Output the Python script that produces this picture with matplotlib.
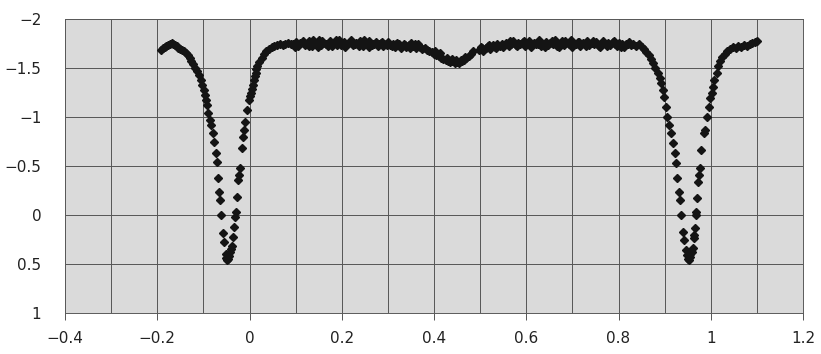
import matplotlib

matplotlib.use("Agg")
import matplotlib.pyplot as plt
import matplotlib.ticker as ticker

# light curve: (phase, magnitude) per stretch of the curve
ECL1 = [(-0.192, -1.68), (-0.188, -1.70), (-0.184, -1.71), (-0.180, -1.72), (-0.176, -1.73),
        (-0.172, -1.75), (-0.168, -1.76), (-0.165, -1.74), (-0.162, -1.73), (-0.158, -1.72),
        (-0.154, -1.70), (-0.150, -1.69), (-0.146, -1.68), (-0.142, -1.67), (-0.138, -1.65),
        (-0.134, -1.63), (-0.130, -1.60), (-0.126, -1.57), (-0.122, -1.54), (-0.118, -1.50),
        (-0.114, -1.47), (-0.110, -1.43), (-0.106, -1.38), (-0.102, -1.33), (-0.099, -1.28),
        (-0.096, -1.22), (-0.094, -1.17), (-0.092, -1.12), (-0.089, -1.04), (-0.086, -0.97),
        (-0.083, -0.92), (-0.080, -0.84), (-0.076, -0.74), (-0.073, -0.63), (-0.071, -0.54),
        (-0.069, -0.38), (-0.066, -0.23), (-0.064, -0.15), (-0.061, 0.00), (-0.057, 0.18),
        (-0.055, 0.28), (-0.052, 0.40), (-0.050, 0.44), (-0.048, 0.46), (-0.046, 0.45),
        (-0.044, 0.42), (-0.042, 0.38), (-0.040, 0.35), (-0.038, 0.32), (-0.036, 0.22),
        (-0.034, 0.12), (-0.031, 0.02), (-0.030, -0.03), (-0.027, -0.18), (-0.025, -0.36),
        (-0.023, -0.41), (-0.021, -0.48), (-0.016, -0.68), (-0.014, -0.80), (-0.012, -0.87),
        (-0.009, -0.95), (-0.005, -1.07), (-0.001, -1.17), (0.001, -1.21), (0.003, -1.25),
        (0.005, -1.29), (0.007, -1.33), (0.009, -1.38), (0.011, -1.42), (0.013, -1.45),
        (0.015, -1.49), (0.017, -1.52), (0.021, -1.56), (0.026, -1.60), (0.031, -1.64),
        (0.036, -1.67), (0.042, -1.69), (0.048, -1.71), (0.054, -1.72), (0.060, -1.73),
        (0.066, -1.74), (0.072, -1.73), (0.078, -1.75), (0.084, -1.76), (0.090, -1.75)]

PLATEAU1 = [(0.095, -1.74), (0.100, -1.77), (0.105, -1.72), (0.110, -1.76), (0.115, -1.78),
            (0.120, -1.73), (0.125, -1.75), (0.130, -1.78), (0.135, -1.72), (0.140, -1.76),
            (0.145, -1.74), (0.150, -1.79), (0.155, -1.73), (0.160, -1.76), (0.165, -1.75),
            (0.170, -1.72), (0.175, -1.78), (0.180, -1.74), (0.185, -1.76), (0.190, -1.73),
            (0.195, -1.79), (0.200, -1.75), (0.205, -1.77), (0.210, -1.74), (0.215, -1.76),
            (0.220, -1.79), (0.225, -1.73), (0.230, -1.76), (0.235, -1.75), (0.240, -1.78),
            (0.245, -1.72), (0.250, -1.76), (0.255, -1.74), (0.260, -1.78), (0.265, -1.73),
            (0.270, -1.75), (0.275, -1.77), (0.280, -1.74), (0.285, -1.76), (0.290, -1.72),
            (0.295, -1.75), (0.300, -1.77), (0.305, -1.73), (0.310, -1.75), (0.315, -1.71),
            (0.320, -1.76), (0.325, -1.74), (0.330, -1.72), (0.335, -1.75), (0.340, -1.71),
            (0.345, -1.73), (0.350, -1.76), (0.355, -1.72), (0.360, -1.70), (0.365, -1.74),
            (0.370, -1.71), (0.375, -1.69), (0.098, -1.71), (0.108, -1.74), (0.118, -1.76),
            (0.128, -1.72), (0.138, -1.79), (0.148, -1.71), (0.158, -1.78), (0.168, -1.74),
            (0.178, -1.72), (0.188, -1.79), (0.198, -1.73), (0.208, -1.71), (0.218, -1.77),
            (0.228, -1.74), (0.238, -1.72), (0.248, -1.79), (0.258, -1.71), (0.268, -1.74),
            (0.278, -1.72), (0.288, -1.77), (0.298, -1.73), (0.308, -1.72), (0.318, -1.74),
            (0.328, -1.70), (0.338, -1.73), (0.348, -1.70), (0.358, -1.74), (0.368, -1.72)]

ECL2 = [(0.380, -1.70), (0.385, -1.68), (0.390, -1.67), (0.395, -1.66), (0.400, -1.64),
        (0.405, -1.63), (0.410, -1.62), (0.415, -1.60), (0.420, -1.59), (0.425, -1.58),
        (0.430, -1.57), (0.435, -1.56), (0.440, -1.57), (0.445, -1.55), (0.450, -1.56),
        (0.455, -1.55), (0.460, -1.57), (0.465, -1.58), (0.470, -1.60), (0.475, -1.62),
        (0.480, -1.64), (0.484, -1.67), (0.402, -1.67), (0.412, -1.65), (0.428, -1.60),
        (0.438, -1.59), (0.448, -1.58), (0.458, -1.58), (0.468, -1.61)]

PLATEAU2 = [(0.497, -1.68), (0.502, -1.71), (0.507, -1.67), (0.512, -1.70), (0.517, -1.72),
            (0.522, -1.69), (0.527, -1.73), (0.532, -1.71), (0.537, -1.74), (0.542, -1.72),
            (0.547, -1.75), (0.552, -1.73), (0.557, -1.76), (0.562, -1.72), (0.567, -1.75),
            (0.572, -1.78), (0.577, -1.73), (0.582, -1.76), (0.587, -1.74), (0.592, -1.77),
            (0.597, -1.72), (0.602, -1.75), (0.607, -1.78), (0.612, -1.73), (0.617, -1.76),
            (0.622, -1.74), (0.627, -1.79), (0.632, -1.72), (0.637, -1.75), (0.642, -1.77),
            (0.647, -1.73), (0.652, -1.76), (0.657, -1.74), (0.662, -1.79), (0.667, -1.72),
            (0.672, -1.75), (0.677, -1.78), (0.682, -1.73), (0.687, -1.76), (0.692, -1.74),
            (0.697, -1.79), (0.702, -1.73), (0.707, -1.75), (0.712, -1.77), (0.717, -1.72),
            (0.722, -1.76), (0.727, -1.74), (0.732, -1.78), (0.737, -1.73), (0.742, -1.76),
            (0.747, -1.74), (0.752, -1.77), (0.757, -1.72), (0.762, -1.75), (0.767, -1.78),
            (0.772, -1.74), (0.777, -1.76), (0.782, -1.73), (0.787, -1.77), (0.792, -1.75),
            (0.797, -1.72), (0.802, -1.76), (0.807, -1.74), (0.812, -1.71), (0.817, -1.75),
            (0.822, -1.77), (0.827, -1.73), (0.832, -1.75), (0.837, -1.72), (0.505, -1.70),
            (0.520, -1.73), (0.535, -1.70), (0.550, -1.71), (0.565, -1.78), (0.580, -1.72),
            (0.595, -1.78), (0.610, -1.71), (0.625, -1.74), (0.640, -1.71), (0.655, -1.78),
            (0.670, -1.71), (0.685, -1.78), (0.700, -1.71), (0.715, -1.77), (0.730, -1.72),
            (0.745, -1.78), (0.760, -1.71), (0.775, -1.72), (0.790, -1.78), (0.805, -1.71),
            (0.820, -1.74)]

ECL3 = [(0.845, -1.74), (0.850, -1.71), (0.855, -1.69), (0.860, -1.66), (0.865, -1.63),
        (0.870, -1.59), (0.875, -1.55), (0.880, -1.50), (0.885, -1.45), (0.890, -1.40),
        (0.893, -1.35), (0.896, -1.28), (0.899, -1.20), (0.902, -1.10), (0.905, -1.00),
        (0.909, -0.92), (0.913, -0.84), (0.918, -0.73), (0.922, -0.63), (0.925, -0.53),
        (0.927, -0.38), (0.931, -0.23), (0.933, -0.15), (0.935, 0.00), (0.940, 0.17),
        (0.942, 0.26), (0.946, 0.36), (0.948, 0.41), (0.950, 0.45), (0.952, 0.46),
        (0.954, 0.43), (0.956, 0.40), (0.959, 0.38), (0.961, 0.34), (0.963, 0.23),
        (0.964, 0.20), (0.966, 0.13), (0.968, 0.00), (0.969, -0.03), (0.970, -0.17),
        (0.972, -0.34), (0.974, -0.41), (0.976, -0.48), (0.979, -0.66), (0.985, -0.84),
        (0.987, -0.87), (0.992, -1.00), (0.996, -1.10), (0.999, -1.19), (1.002, -1.25),
        (1.004, -1.31), (1.008, -1.38), (1.013, -1.45), (1.016, -1.52), (1.020, -1.57),
        (1.025, -1.61), (1.030, -1.64), (1.036, -1.67), (1.042, -1.69), (1.048, -1.71),
        (1.054, -1.70), (1.060, -1.72), (1.066, -1.71), (1.072, -1.73), (1.078, -1.72),
        (1.084, -1.75), (1.090, -1.76), (1.096, -1.77), (1.100, -1.78)]

X_TICKS = [-0.4, -0.2, 0, 0.2, 0.4, 0.6, 0.8, 1, 1.2]
Y_TICKS = [-2, -1.5, -1, -0.5, 0, 0.5, 1]

points = ECL1 + PLATEAU1 + ECL2 + PLATEAU2 + ECL3
phase = [p for p, _ in points]
mag = [m for _, m in points]

plt.rcParams["font.family"] = ["DejaVu Sans"]

fig = plt.figure(figsize=(8.21, 3.54), dpi=100)
fig.patch.set_facecolor("white")
ax = fig.add_axes([0.0792, 0.1158, 0.8989, 0.8305])
ax.set_facecolor("#dadada")

ax.plot(phase, mag, ls="none", marker="D", ms=4.0, color="#141414", mec="#141414", zorder=3)

ax.set_xlim(-0.4, 1.2)
ax.set_ylim(1, -2)  # magnitudes: brighter is up
ax.xaxis.set_major_locator(ticker.FixedLocator(X_TICKS))
ax.xaxis.set_minor_locator(ticker.MultipleLocator(0.1))
ax.yaxis.set_major_locator(ticker.FixedLocator(Y_TICKS))
fmt = ticker.FuncFormatter(lambda v, _: f"{v:g}".replace("-", "\u2212"))
ax.xaxis.set_major_formatter(fmt)
ax.yaxis.set_major_formatter(fmt)

ax.grid(True, which="both", axis="x", color="#555555", lw=0.7)
ax.grid(True, which="major", axis="y", color="#555555", lw=0.7)
ax.set_axisbelow(True)
for s in ax.spines.values():
    s.set_color("#5a5a5a")
    s.set_linewidth(0.7)

ax.tick_params(axis="x", which="major", length=5, width=0.7, color="#555555",
               direction="out", pad=8, labelsize=11, labelcolor="#222222")
ax.tick_params(axis="x", which="minor", length=0)
ax.tick_params(axis="y", which="major", length=0, pad=17, labelsize=11, labelcolor="#222222")

fig.savefig("out.png", dpi=100, facecolor="white")
